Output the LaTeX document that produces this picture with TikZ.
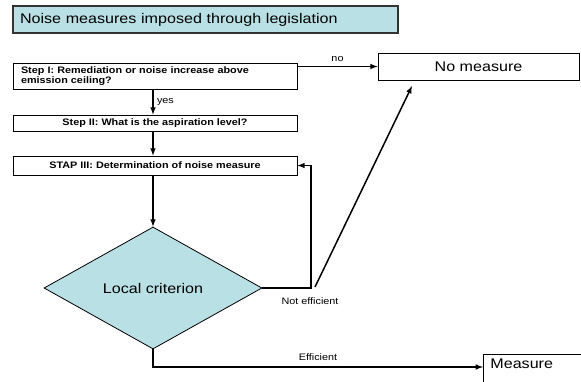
\documentclass[tikz,border=0pt]{standalone}
\usepackage{fontspec}
\setmainfont{Liberation Sans}[FakeStretch=1.15]
\usepackage{tikz}
\usetikzlibrary{arrows,shapes.geometric}
\definecolor{lightcyan}{RGB}{185,224,228}

\begin{document}
\begin{tikzpicture}[x=1pt,y=-1pt,
  stepbox/.style={draw,line width=0.8pt,minimum width=284pt,inner xsep=8pt,font=\fontsize{9.4}{10}\selectfont\bfseries},
  bigbox/.style={draw,line width=0.8pt,font=\fontsize{14}{16}\selectfont},
  flow/.style={->,>=latex,line width=1.5pt},
  lbl/.style={font=\fontsize{9.4}{11}\selectfont}]
\useasboundingbox (0,0) rectangle (581,381);

\node[draw=black!80,line width=1.2pt,fill=lightcyan,minimum width=385pt,minimum height=27pt,
  text width=371pt,inner xsep=7pt,font=\fontsize{14}{16}\selectfont] (title) at (205.5,19.5) {Noise measures imposed through legislation};

% the three steps
\node[stepbox,minimum height=25pt,text width=268pt,align=left] (step1) at (155,76.5) {Step I: Remediation or noise increase above\\emission ceiling?};
\node[stepbox,minimum height=16pt,align=center] (step2) at (155,123) {Step II: What is the aspiration level?};
\node[stepbox,minimum height=19pt,align=center] (step3) at (155,165.5) {STAP III: Determination of noise measure};

\node[diamond,draw,line width=0.8pt,fill=lightcyan,inner sep=0pt,minimum width=218pt,minimum height=122pt,
  font=\fontsize{14}{16}\selectfont] (crit) at (153,288) {Local criterion};

\node[bigbox,minimum width=201pt,minimum height=27pt] (nomeasure) at (478.5,66.5) {No measure};
\node[bigbox,anchor=north west,minimum width=110pt,text height=11pt,text depth=40pt,inner ysep=3pt,
  inner xsep=7pt,align=left,text width=96pt] (measure) at (483,354) {Measure};

%\draw (0,0) grid (581,381);

\coordinate (loop) at (311,288);
\coordinate (diagstart) at (315,287);
\coordinate (diagend) at (412,86);
\coordinate (effturn) at (153,367);

\draw[flow] (step1.east |- nomeasure.west) -- node[lbl,above=1pt] {no} (nomeasure.west);
\draw[flow] (step1.south -| crit.north) -- node[lbl,right] {yes} (step2.north -| crit.north);
\draw[flow] (step2.south -| crit.north) -- (step3.north -| crit.north);
\draw[flow] (step3.south -| crit.north) -- (crit.north);

\draw[flow] (crit.east) -- (loop) -- (loop |- step3.east) -- (step3.east);
\node[lbl] (noteff) at (310,301) {Not efficient};
\draw[flow] (diagstart) -- (diagend);

\draw[flow] (crit.south) -- (effturn) -- node[lbl,above=2pt] {Efficient} (effturn -| measure.west);

\end{tikzpicture}
\end{document}
